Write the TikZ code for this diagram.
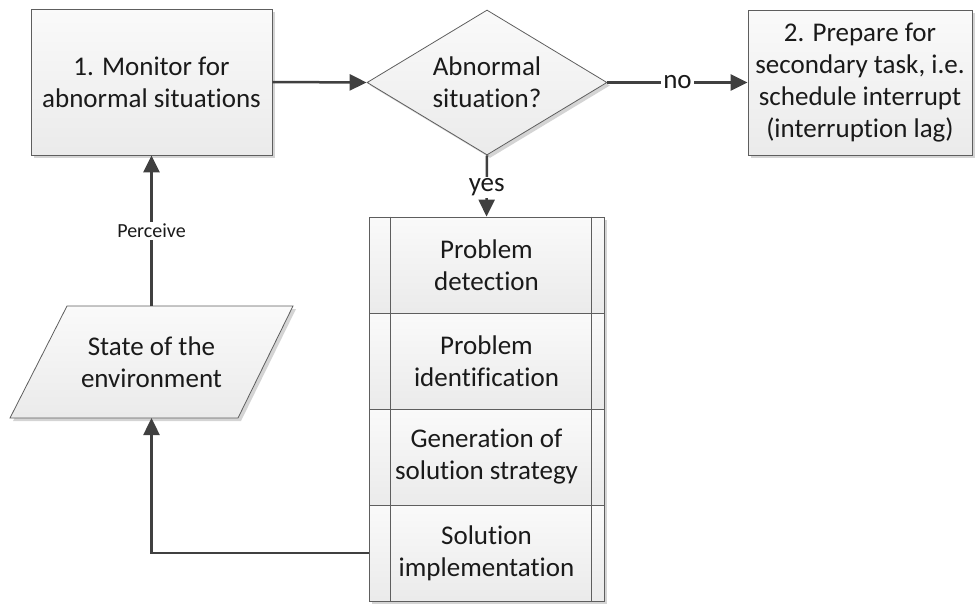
\documentclass[tikz,border=0pt]{standalone}
\usepackage{fontspec}
\setmainfont[Ligatures={NoCommon,NoContextual},RawFeature={-liga;-clig;-calt;-dlig}]{Carlito}
\usetikzlibrary{shapes.geometric,arrows.meta,shadows}
\definecolor{boxline}{HTML}{5E5E5E}
\definecolor{arrc}{HTML}{404040}
\definecolor{txt}{HTML}{1A1A1A}
\definecolor{shadowc}{HTML}{D4D4D4}
\begin{document}
\begin{tikzpicture}[x=1pt,y=-1pt,
  mainfont/.style={font=\fontsize{27}{32}\selectfont, text=txt},
  shapefill/.style={draw=boxline, line width=0.8pt, top color=black!2, bottom color=black!8},
  shadowed/.style={drop shadow={shadow xshift=3pt, shadow yshift=-3pt, fill=shadowc, opacity=1}},
  box/.style={shapefill, shadowed, mainfont, align=center, inner sep=0pt},
  rowbox/.style={draw=boxline, line width=0.8pt, top color=black!2, bottom color=black!8, mainfont, align=center, inner sep=0pt, minimum width=235pt, minimum height=96pt},
  arr/.style={draw=arrc, line width=2.5pt, -{Triangle[length=17pt, width=16pt]}},
  lbl/.style={fill=white, inner sep=2pt, text=txt, font=\fontsize{27}{32}\selectfont},
  smalllbl/.style={fill=white, inner sep=2pt, text=txt, font=\fontsize{20}{24}\selectfont}
]
\useasboundingbox (0,0) rectangle (980,605);

% Box 1
\node[box, minimum width=241pt, minimum height=146pt] (box1) at (151.5,82) {1. Monitor for\\abnormal situations};

% Decision diamond
\node[diamond, aspect=1.655, shapefill, shadowed, inner sep=0pt, minimum width=240pt, minimum height=145pt] (dia) at (487,82.5) {};
\node[mainfont, align=center] (diatext) at (dia.center) {Abnormal\\situation?};

% Box 2
\node[box, minimum width=224pt, minimum height=145pt] (box2) at (860,82.5) {2. Prepare for\\secondary task, i.e.\\schedule interrupt\\(interruption lag)};

% Parallelogram: state of the environment
\draw[shapefill, shadowed] (67,306) -- (293,306) -- (238,418) -- (10,418) -- cycle;
\coordinate (envtop) at (151.5,306);
\coordinate (envbot) at (151.5,418);
\node[mainfont, align=center] (env) at (151.5,362) {State of the\\environment};

% Stack of subprocesses
\node[shapefill, shadowed, inner sep=0pt, minimum width=235pt, minimum height=384pt] (stack) at (486.5,409) {};
\node[rowbox] (r1) at (486.5,265) {Problem\\detection};
\node[rowbox] (r2) at (486.5,361) {Problem\\identification};
\node[rowbox] (r3) at (486.5,457) {Generation of\\solution strategy};
\node[rowbox] (r4) at (486.5,553) {Solution\\implementation};
\draw[draw=boxline, line width=0.8pt] ([xshift=22pt]stack.north west) -- ([xshift=22pt]stack.south west);
\draw[draw=boxline, line width=0.8pt] ([xshift=-13pt]stack.north east) -- ([xshift=-13pt]stack.south east);

% Connectors
\draw[arr] (box1.east) -- (dia.west);
\draw[arr] (dia.east) -- node[lbl] {no} (box2.west);
\draw[arr] (dia.south) -- node[lbl, pos=0.52] {yes} (stack.north);
\draw[arr] (envtop) -- node[smalllbl] {Perceive} (box1.south);
\draw[arr] (r4.west) -| (envbot);
\end{tikzpicture}
\end{document}
